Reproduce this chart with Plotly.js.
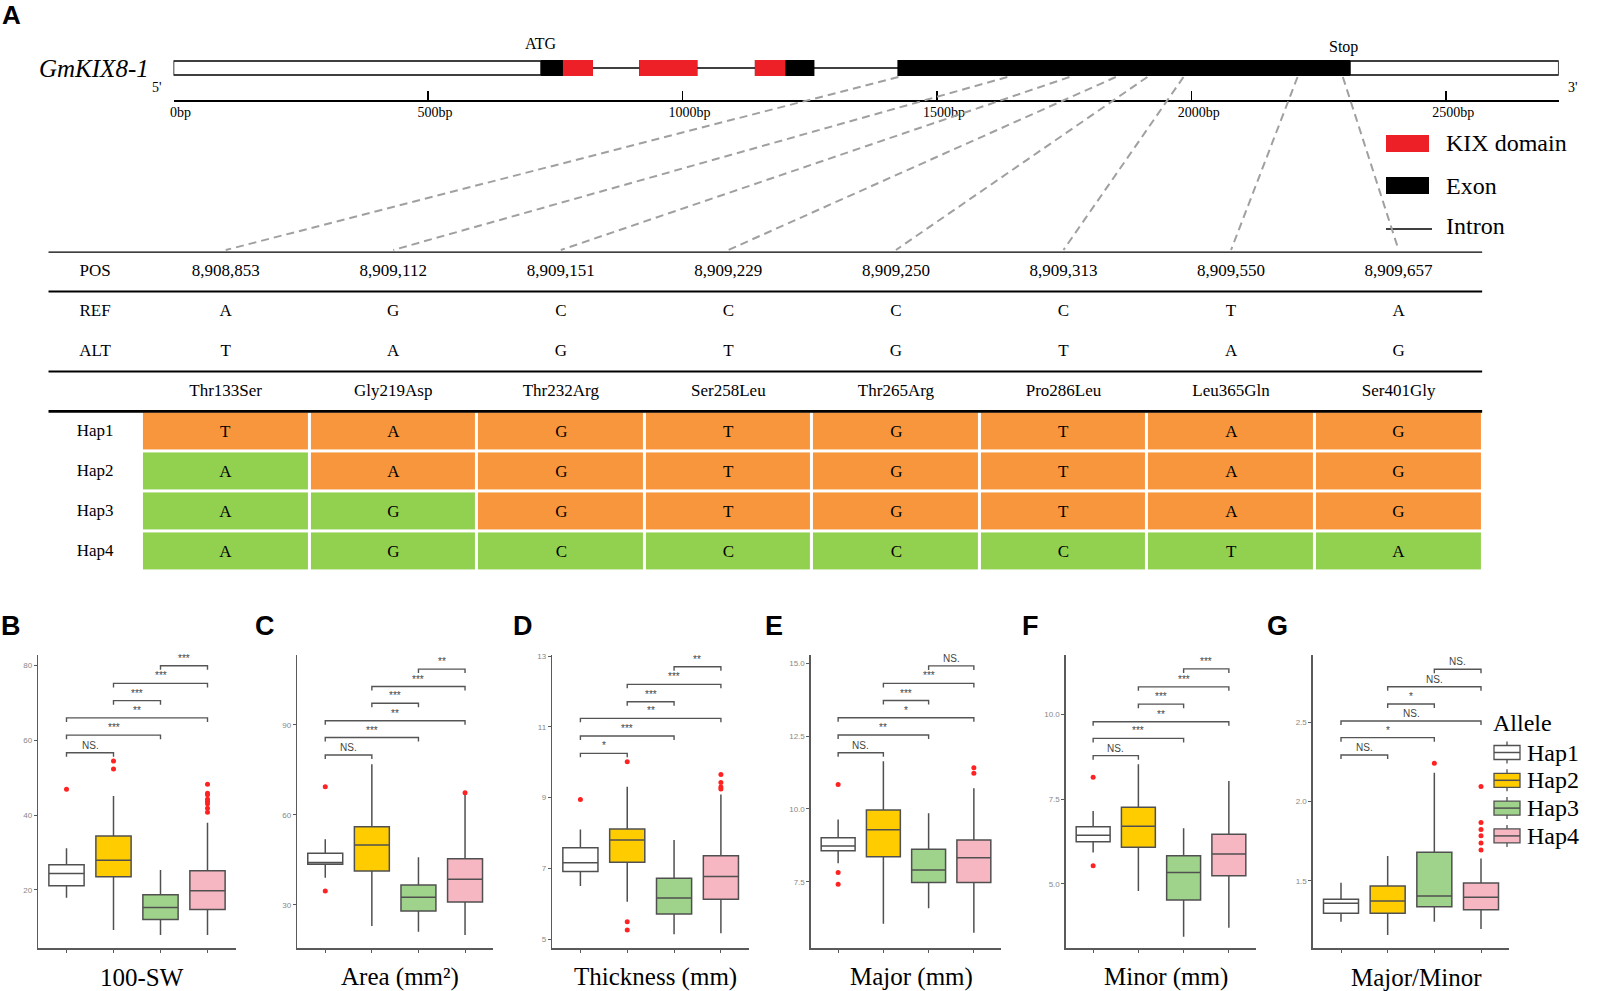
<!DOCTYPE html>
<html><head><meta charset="utf-8">
<script src="https://cdn.plot.ly/plotly-3.0.1.min.js"></script>
<style>html,body{margin:0;padding:0;background:#fff}#chart{width:1612px;height:991px}</style>
</head><body><div id="chart"></div>
<script>
// ================= DATA =================
// Gene structure (bp along GmKIX8-1)
const geneLength = 2721;
const utr5 = [0, 722];
const utr3 = [2311, 2721];
const exonStart = [722, 915, 1142, 1422];
const exonEnd = [824, 1029, 1259, 2311];
const kixStart = [765, 915, 1142];
const kixEnd = [824, 1029, 1202];
const rulerTicks = [0, 500, 1000, 1500, 2000, 2500];
const rulerLabels = ['0bp', '500bp', '1000bp', '1500bp', '2000bp', '2500bp'];
const snpGenePos = [1424, 1638, 1760, 1851, 1913, 1984, 2208, 2297];

// SNP table
const snpPos = ['8,908,853', '8,909,112', '8,909,151', '8,909,229', '8,909,250', '8,909,313', '8,909,550', '8,909,657'];
const refAllele = ['A', 'G', 'C', 'C', 'C', 'C', 'T', 'A'];
const altAllele = ['T', 'A', 'G', 'T', 'G', 'T', 'A', 'G'];
const aaChange = ['Thr133Ser', 'Gly219Asp', 'Thr232Arg', 'Ser258Leu', 'Thr265Arg', 'Pro286Leu', 'Leu365Gln', 'Ser401Gly'];
const haplotypes = ['Hap1', 'Hap2', 'Hap3', 'Hap4'];
const hap1Alleles = ['T', 'A', 'G', 'T', 'G', 'T', 'A', 'G'];
const hap2Alleles = ['A', 'A', 'G', 'T', 'G', 'T', 'A', 'G'];
const hap3Alleles = ['A', 'G', 'G', 'T', 'G', 'T', 'A', 'G'];
const hap4Alleles = ['A', 'G', 'C', 'C', 'C', 'C', 'T', 'A'];

// Box plot statistics per haplotype (Hap1..Hap4)
// 100-SW
const swLower = [17.9, 9.3, 8.0, 8.0];
const swQ1 = [21.1, 23.5, 12.1, 14.8];
const swMedian = [24.4, 27.9, 15.3, 19.8];
const swQ3 = [26.7, 34.4, 18.7, 25.1];
const swUpper = [31.1, 45.1, 25.3, 37.9];
const swOutHap = [0, 1, 1, 3, 3, 3, 3, 3, 3, 3, 3];
const swOutVal = [46.9, 54.4, 52.3, 48.2, 45.8, 45.4, 44.2, 43.6, 43.0, 41.8, 40.7];
const swSigY = [56.6, 61.3, 65.9, 70.5, 75.1, 79.8];
const swSigLabel = ['NS.', '***', '**', '***', '***', '***'];
// Area (mm2)
const areaLower = [39.1, 23.0, 21.1, 20.0];
const areaQ1 = [43.6, 41.3, 28.0, 31.0];
const areaMedian = [44.2, 50.0, 32.6, 38.6];
const areaQ3 = [47.2, 56.1, 36.7, 45.4];
const areaUpper = [51.9, 76.9, 45.9, 66.8];
const areaOutHap = [0, 0, 3];
const areaOutVal = [69.4, 34.7, 67.4];
const areaSigY = [80.0, 85.8, 91.4, 97.2, 102.8, 108.6];
const areaSigLabel = ['NS.', '***', '**', '***', '***', '**'];
// Thickness (mm)
const thLower = [6.50, 6.06, 5.14, 5.17];
const thQ1 = [6.91, 7.17, 5.71, 6.13];
const thMedian = [7.16, 7.80, 6.16, 6.77];
const thQ3 = [7.58, 8.11, 6.72, 7.36];
const thUpper = [8.10, 9.31, 7.80, 9.09];
const thOutHap = [0, 1, 1, 1, 3, 3, 3, 3];
const thOutVal = [8.95, 10.01, 5.49, 5.26, 9.65, 9.43, 9.30, 9.24];
const thSigY = [10.25, 10.74, 11.24, 11.71, 12.20, 12.70];
const thSigLabel = ['*', '***', '**', '***', '***', '**'];
// Major (mm)
const majLower = [8.13, 6.06, 6.59, 5.75];
const majQ1 = [8.56, 8.36, 7.47, 7.47];
const majMedian = [8.73, 9.28, 7.90, 8.32];
const majQ3 = [9.01, 9.96, 8.61, 8.93];
const majUpper = [9.64, 11.64, 9.85, 10.71];
const majOutHap = [0, 0, 0, 3, 3];
const majOutVal = [10.84, 7.82, 7.41, 11.41, 11.22];
const majSigY = [11.93, 12.54, 13.13, 13.72, 14.31, 14.91];
const majSigLabel = ['NS.', '**', '*', '***', '***', 'NS.'];
// Minor (mm)
const minLower = [5.92, 4.79, 3.44, 3.70];
const minQ1 = [6.24, 6.08, 4.52, 5.24];
const minMedian = [6.43, 6.70, 5.33, 5.88];
const minQ3 = [6.68, 7.26, 5.83, 6.46];
const minUpper = [7.15, 8.53, 6.64, 8.03];
const minOutHap = [0, 0];
const minOutVal = [8.14, 5.53];
const minSigY = [8.78, 9.29, 9.78, 10.30, 10.81, 11.34];
const minSigLabel = ['NS.', '***', '**', '***', '***', '***'];
// Major/Minor
const ratLower = [1.241, 1.157, 1.241, 1.195];
const ratQ1 = [1.294, 1.294, 1.336, 1.316];
const ratMedian = [1.357, 1.372, 1.403, 1.395];
const ratQ3 = [1.383, 1.467, 1.679, 1.486];
const ratUpper = [1.487, 1.656, 2.182, 1.640];
const ratOutHap = [2, 3, 3, 3, 3, 3, 3];
const ratOutVal = [2.241, 2.095, 1.868, 1.823, 1.784, 1.738, 1.693];
const ratSigY = [2.294, 2.403, 2.508, 2.616, 2.725, 2.835];
const ratSigLabel = ['NS.', '*', 'NS.', '*', 'NS.', 'NS.'];

const sigPairs = [[0, 1], [0, 2], [0, 3], [1, 2], [1, 3], [2, 3]];
const traitTitles = ['100-SW', 'Area (mm²)', 'Thickness (mm)', 'Major (mm)', 'Minor (mm)', 'Major/Minor'];
const panelLetters = ['B', 'C', 'D', 'E', 'F', 'G'];
const yTickVals = [[20, 40, 60, 80], [30, 60, 90], [5, 7, 9, 11, 13], [7.5, 10, 12.5, 15], [5, 7.5, 10], [1.5, 2, 2.5]];
const yTickText = [['20', '40', '60', '80'], ['30', '60', '90'], ['5', '7', '9', '11', '13'], ['7.5', '10.0', '12.5', '15.0'], ['5.0', '7.5', '10.0'], ['1.5', '2.0', '2.5']];

// ================= LAYOUT HELPERS =================
const W = 1612, H = 991;
const px = v => v / W;
const py = v => 1 - v / H;
const SERIF = 'Liberation Serif, Times New Roman, serif';
const SANS = 'Liberation Sans, Arial, sans-serif';
const hapFill = ['#FFFFFF', '#FFCC00', '#9FD38B', '#F6B6C2'];
const boxLine = '#505050';
const axisGray = '#5a5a5a';

const stats = [
  [swLower, swQ1, swMedian, swQ3, swUpper, swOutHap, swOutVal, swSigY, swSigLabel],
  [areaLower, areaQ1, areaMedian, areaQ3, areaUpper, areaOutHap, areaOutVal, areaSigY, areaSigLabel],
  [thLower, thQ1, thMedian, thQ3, thUpper, thOutHap, thOutVal, thSigY, thSigLabel],
  [majLower, majQ1, majMedian, majQ3, majUpper, majOutHap, majOutVal, majSigY, majSigLabel],
  [minLower, minQ1, minMedian, minQ3, minUpper, minOutHap, minOutVal, minSigY, minSigLabel],
  [ratLower, ratQ1, ratMedian, ratQ3, ratUpper, ratOutHap, ratOutVal, ratSigY, ratSigLabel]
];
const panelX = [[38.3, 235.7], [297.3, 493], [552.3, 749], [811, 1001], [1066, 1256], [1313, 1509]];
const panelTop = 655, panelBottom = 948;
const yRanges = [[4.53, 82.67], [15.67, 113.3], [4.75, 13.03], [5.223, 15.285], [3.106, 11.75], [1.075, 2.925]];

const geneX0 = 173.5, geneX1 = 1558.7;
const tabLeft = 48.3, tabRight = 1482.4, colStart = 141.9;
const colW = (tabRight - colStart) / 8;
const tabTop = 251.4, tabBottom = 571.4;

const traces = [];
const shapes = [];
const annotations = [];
const txt = (x, y, text, size, opts) => annotations.push(Object.assign({xref: 'paper', yref: 'paper', x: px(x), y: py(y), text: text, showarrow: false, xanchor: 'center', yanchor: 'middle', font: {family: SERIF, size: size, color: '#000'}}, opts || {}));

// ================= GENE STRUCTURE =================
traces.push({type: 'scatter', x: [0], y: [50], mode: 'markers', marker: {opacity: 0}, showlegend: false, hoverinfo: 'skip', xaxis: 'x', yaxis: 'y'});
shapes.push({type: 'line', xref: 'x', yref: 'y', x0: exonStart[0], x1: exonEnd[exonEnd.length - 1], y0: 68, y1: 68, line: {color: '#000', width: 1.5}, layer: 'below'});
[utr5, utr3].forEach(u => shapes.push({type: 'rect', xref: 'x', yref: 'y', x0: u[0], x1: u[1], y0: 61, y1: 75, fillcolor: '#fff', line: {color: '#000', width: 1.5}}));
exonStart.forEach((s, i) => shapes.push({type: 'rect', xref: 'x', yref: 'y', x0: s, x1: exonEnd[i], y0: 60, y1: 76, fillcolor: '#000', line: {width: 0}}));
kixStart.forEach((s, i) => shapes.push({type: 'rect', xref: 'x', yref: 'y', x0: s, x1: kixEnd[i], y0: 60, y1: 76, fillcolor: '#EE2027', line: {width: 0}}));

annotations.push({xref: 'x', yref: 'y', x: exonStart[0], y: 44, xanchor: 'center', yanchor: 'middle', text: 'ATG', showarrow: false, font: {family: SERIF, size: 16, color: '#000'}});
annotations.push({xref: 'x', yref: 'y', x: exonEnd[exonEnd.length - 1], xshift: -6, y: 47, xanchor: 'center', yanchor: 'middle', text: 'Stop', showarrow: false, font: {family: SERIF, size: 16, color: '#000'}});
txt(94, 68, '<i>GmKIX8-1</i>', 25);
txt(157, 87, "5'", 14);
txt(1573, 88, "3'", 14);
txt(11, 15, '<b>A</b>', 26, {font: {family: SANS, size: 26, color: '#000'}});

// gene legend
shapes.push({type: 'rect', xref: 'paper', yref: 'paper', x0: px(1386), x1: px(1429), y0: py(152), y1: py(135), fillcolor: '#EE2027', line: {width: 0}});
shapes.push({type: 'rect', xref: 'paper', yref: 'paper', x0: px(1386), x1: px(1429), y0: py(194), y1: py(177), fillcolor: '#000', line: {width: 0}});
shapes.push({type: 'line', xref: 'paper', yref: 'paper', x0: px(1386), x1: px(1432), y0: py(229), y1: py(229), line: {color: '#000', width: 1.5}});
[['KIX domain', 143], ['Exon', 186], ['Intron', 226]].forEach(t => txt(1444, t[1], t[0], 24, {xanchor: 'left'}));

// dashed connectors from SNP position on gene to table column
snpGenePos.forEach((bp, i) => {
  const gx = geneX0 + bp / geneLength * (geneX1 - geneX0);
  const tx = colStart + colW * (i + 0.5);
  shapes.push({type: 'line', xref: 'paper', yref: 'paper', x0: px(gx), y0: py(77), x1: px(tx), y1: py(250), line: {color: '#A0A0A0', width: 2, dash: '8px,5px'}});
});

// ================= TABLE =================
const idx8 = [0, 1, 2, 3, 4, 5, 6, 7];
const hapRows = [hap1Alleles, hap2Alleles, hap3Alleles, hap4Alleles];
traces.push({
  type: 'heatmap', x: idx8, y: [4, 5, 6, 7],
  z: hapRows.map(r => r.map((a, i) => a === altAllele[i] ? 1 : 0)),
  text: hapRows, texttemplate: '%{text}',
  textfont: {family: SERIF, size: 17, color: '#000'},
  colorscale: [[0, '#92D050'], [1, '#F7963C']], zmin: 0, zmax: 1, showscale: false,
  xgap: 3, ygap: 3, hoverinfo: 'skip', showlegend: false, xaxis: 'x2', yaxis: 'y2'
});
const textRow = (xs, ys, t) => traces.push({type: 'scatter', mode: 'text', x: xs, y: ys, text: t, textposition: 'middle center', textfont: {family: SERIF, size: 17, color: '#000'}, hoverinfo: 'skip', showlegend: false, cliponaxis: false, xaxis: 'x2', yaxis: 'y2'});
const labelX = -0.5 - (colStart - (tabLeft + colStart) / 2) / colW;
textRow([labelX, labelX, labelX, labelX, labelX, labelX, labelX], [0, 1, 2, 4, 5, 6, 7], ['POS', 'REF', 'ALT'].concat(haplotypes));
textRow(idx8, idx8.map(() => 0), snpPos);
textRow(idx8, idx8.map(() => 1), refAllele);
textRow(idx8, idx8.map(() => 2), altAllele);
textRow(idx8, idx8.map(() => 3), aaChange);
const tabXMin = -0.5 - (colStart - tabLeft) / colW;
[[-0.5, 2.5], [0.5, 2], [2.5, 2], [3.5, 2.8]].forEach(l => shapes.push({type: 'line', xref: 'x2', yref: 'y2', x0: tabXMin, x1: 7.5, y0: l[0], y1: l[0], line: {color: '#000', width: l[1]}}));

// ================= BOX PLOTS =================
stats.forEach((st, p) => {
  const k = p + 3;
  const xa = 'x' + k, ya = 'y' + k;
  const [lo, q1, med, q3, up, outHap, outVal, sigY, sigLab] = st;
  haplotypes.forEach((h, j) => {
    traces.push({
      type: 'box', x: [j], q1: [q1[j]], median: [med[j]], q3: [q3[j]], lowerfence: [lo[j]], upperfence: [up[j]],
      name: h, showlegend: false, fillcolor: hapFill[j],
      line: {color: boxLine, width: 1.5}, width: 0.75, whiskerwidth: 0, boxpoints: false,
      hoverinfo: 'skip', xaxis: xa, yaxis: ya
    });
  });
  traces.push({type: 'scatter', mode: 'markers', x: outHap, y: outVal, marker: {color: '#FF2222', size: 5}, showlegend: false, hoverinfo: 'skip', xaxis: xa, yaxis: ya, cliponaxis: false});
  const span = yRanges[p][1] - yRanges[p][0];
  const leg = 4 * span / (panelBottom - panelTop);
  sigPairs.forEach((pr, m) => {
    const y = sigY[m];
    shapes.push({type: 'path', xref: xa, yref: ya, path: `M${pr[0]},${y - leg} L${pr[0]},${y} L${pr[1]},${y} L${pr[1]},${y - leg}`, line: {color: '#555', width: 1.4}});
    annotations.push({xref: xa, yref: ya, x: (pr[0] + pr[1]) / 2, y: y, xanchor: 'center', yanchor: 'bottom', text: sigLab[m], showarrow: false, font: {family: SANS, size: 10, color: '#444'}});
  });
  txt((panelX[p][0] + panelX[p][1]) / 2 + 5, 977, traitTitles[p], 25);
  txt([11, 265, 523, 774, 1030, 1277][p], 626, '<b>' + panelLetters[p] + '</b>', 27, {font: {family: SANS, size: 27, color: '#000'}});
});

// ---- legend (Allele) drawn with boxplot keys ----
txt(1491, 723, 'Allele', 24, {xanchor: 'left'});
haplotypes.forEach((h, j) => {
  const cy = 752.5 + j * 27.8;
  const kx0 = 1494, kx1 = 1520, kc = (kx0 + kx1) / 2;
  shapes.push({type: 'line', xref: 'paper', yref: 'paper', x0: px(kc), x1: px(kc), y0: py(cy - 11), y1: py(cy + 11), line: {color: boxLine, width: 1.3}});
  shapes.push({type: 'rect', xref: 'paper', yref: 'paper', x0: px(kx0), x1: px(kx1), y0: py(cy + 7), y1: py(cy - 7), fillcolor: hapFill[j], line: {color: boxLine, width: 1.3}});
  shapes.push({type: 'line', xref: 'paper', yref: 'paper', x0: px(kx0), x1: px(kx1), y0: py(cy), y1: py(cy), line: {color: boxLine, width: 1.5}});
  txt(1525, cy, h, 24, {xanchor: 'left'});
});

const layout = {
  width: W, height: H, margin: {l: 0, r: 0, t: 0, b: 0},
  paper_bgcolor: '#fff', plot_bgcolor: 'rgba(0,0,0,0)',
  font: {family: SERIF, color: '#000'},
  showlegend: false, boxmode: 'overlay',
  xaxis: {domain: [px(geneX0), px(geneX1)], range: [0, geneLength], showline: true, linecolor: '#000', linewidth: 1.5,
    ticks: 'inside', ticklen: 9, tickwidth: 1.5, tickcolor: '#000', tickvals: rulerTicks, ticktext: rulerLabels,
    tickfont: {family: SERIF, size: 14, color: '#000'}, ticklabelshift: 7, ticklabelstandoff: -1,
    showgrid: false, zeroline: false, anchor: 'y', fixedrange: true},
  yaxis: {domain: [py(100), py(30)], range: [100, 30], visible: false, fixedrange: true, anchor: 'x'},
  xaxis2: {domain: [px(tabLeft), px(tabRight)], range: [tabXMin, 7.5], visible: false, anchor: 'y2', fixedrange: true},
  yaxis2: {domain: [py(tabBottom), py(tabTop)], range: [7.5, -0.5], visible: false, anchor: 'x2', fixedrange: true},
  shapes: shapes, annotations: annotations
};
stats.forEach((st, p) => {
  const k = p + 3;
  layout['xaxis' + k] = {domain: [px(panelX[p][0]), px(panelX[p][1])], range: [-0.6, 3.6], showline: true, linecolor: axisGray, linewidth: 1.6,
    ticks: 'outside', ticklen: 3, tickwidth: 1, tickcolor: axisGray, tickvals: [0, 1, 2, 3], showticklabels: false,
    showgrid: false, zeroline: false, anchor: 'y' + k, fixedrange: true};
  layout['yaxis' + k] = {domain: [py(panelBottom), py(panelTop)], range: yRanges[p], showline: true, linecolor: axisGray, linewidth: 1.6,
    ticks: 'outside', ticklen: 3, tickwidth: 1, tickcolor: axisGray, tickvals: yTickVals[p], ticktext: yTickText[p],
    tickfont: {family: SANS, size: 8, color: '#888'}, showgrid: false, zeroline: false, anchor: 'x' + k, fixedrange: true};
});

Plotly.newPlot('chart', traces, layout, {staticPlot: true, displayModeBar: false});
</script>
</body></html>
